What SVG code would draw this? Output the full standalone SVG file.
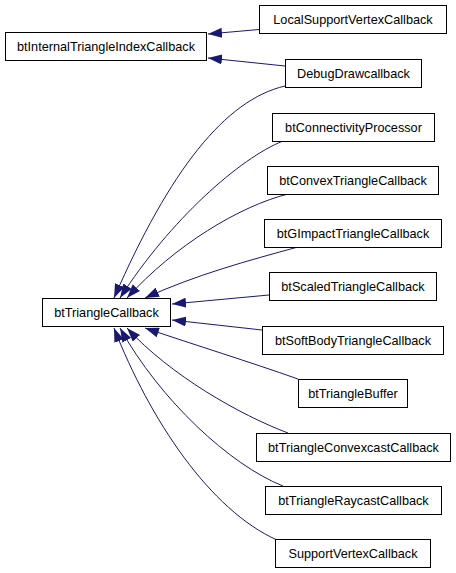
<svg xmlns="http://www.w3.org/2000/svg" width="456" height="573" viewBox="0 0 456 573">
<style>
.node rect{fill:#ffffff;stroke:#000000;stroke-width:1}
.node text{font-family:"Liberation Sans",Arial,sans-serif;font-size:12.7px;fill:#000000;text-anchor:middle}
.edge{fill:none;stroke:#191970;stroke-width:1;marker-end:url(#arr)}
</style>
<defs>
<marker id="arr" markerUnits="userSpaceOnUse" markerWidth="14" markerHeight="10" refX="14" refY="5" orient="auto">
<path d="M0,0 L14,5 L0,10 z" fill="#191970"/>
</marker>
</defs>
<rect width="456" height="573" fill="#ffffff"/>
<g id="connectors">
<path class="edge" d="M259,29.5 L208,34"/>
<path class="edge" d="M285,66 L208,58"/>
<path class="edge" d="M285,86 C225,100 170,170 114,298"/>
<path class="edge" d="M283,141 C240,158 170,220 120,298"/>
<path class="edge" d="M288,194 C240,206 175,245 127,298"/>
<path class="edge" d="M298,247 C250,260 195,275 145,298"/>
<path class="edge" d="M269,295 L172,304"/>
<path class="edge" d="M262,330 L172,320"/>
<path class="edge" d="M298,379 C250,362 195,345 145,328"/>
<path class="edge" d="M288,433 C240,415 170,375 127,328"/>
<path class="edge" d="M283,486 C230,465 160,400 120,328"/>
<path class="edge" d="M277,540 C210,510 150,420 114,328"/>
</g>
<g id="LocalSupportVertexCallback" class="node"><rect x="259.5" y="5.5" width="187" height="28"/><text x="353" y="24">LocalSupportVertexCallback</text></g>
<g id="btInternalTriangleIndexCallback" class="node"><rect x="5.5" y="32.5" width="201" height="28"/><text x="106" y="51">btInternalTriangleIndexCallback</text></g>
<g id="DebugDrawcallback" class="node"><rect x="285.5" y="59.5" width="136" height="28"/><text x="353.5" y="78">DebugDrawcallback</text></g>
<g id="btConnectivityProcessor" class="node"><rect x="272.5" y="113.5" width="162" height="28"/><text x="353.5" y="132">btConnectivityProcessor</text></g>
<g id="btConvexTriangleCallback" class="node"><rect x="267.5" y="166.5" width="171" height="28"/><text x="353" y="185">btConvexTriangleCallback</text></g>
<g id="btGImpactTriangleCallback" class="node"><rect x="264.5" y="219.5" width="177" height="28"/><text x="353" y="238">btGImpactTriangleCallback</text></g>
<g id="btScaledTriangleCallback" class="node"><rect x="269.5" y="272.5" width="167" height="28"/><text x="353" y="291">btScaledTriangleCallback</text></g>
<g id="btTriangleCallback" class="node"><rect x="42.5" y="298.5" width="128" height="28"/><text x="106.5" y="317">btTriangleCallback</text></g>
<g id="btSoftBodyTriangleCallback" class="node"><rect x="262.5" y="326.5" width="181" height="28"/><text x="353" y="345">btSoftBodyTriangleCallback</text></g>
<g id="btTriangleBuffer" class="node"><rect x="298.5" y="379.5" width="109" height="28"/><text x="353" y="398">btTriangleBuffer</text></g>
<g id="btTriangleConvexcastCallback" class="node"><rect x="256.5" y="433.5" width="194" height="28"/><text x="353.5" y="452">btTriangleConvexcastCallback</text></g>
<g id="btTriangleRaycastCallback" class="node"><rect x="265.5" y="486.5" width="176" height="28"/><text x="353.5" y="505">btTriangleRaycastCallback</text></g>
<g id="SupportVertexCallback" class="node"><rect x="275.5" y="539.5" width="155" height="28"/><text x="353" y="558">SupportVertexCallback</text></g>
</svg>
